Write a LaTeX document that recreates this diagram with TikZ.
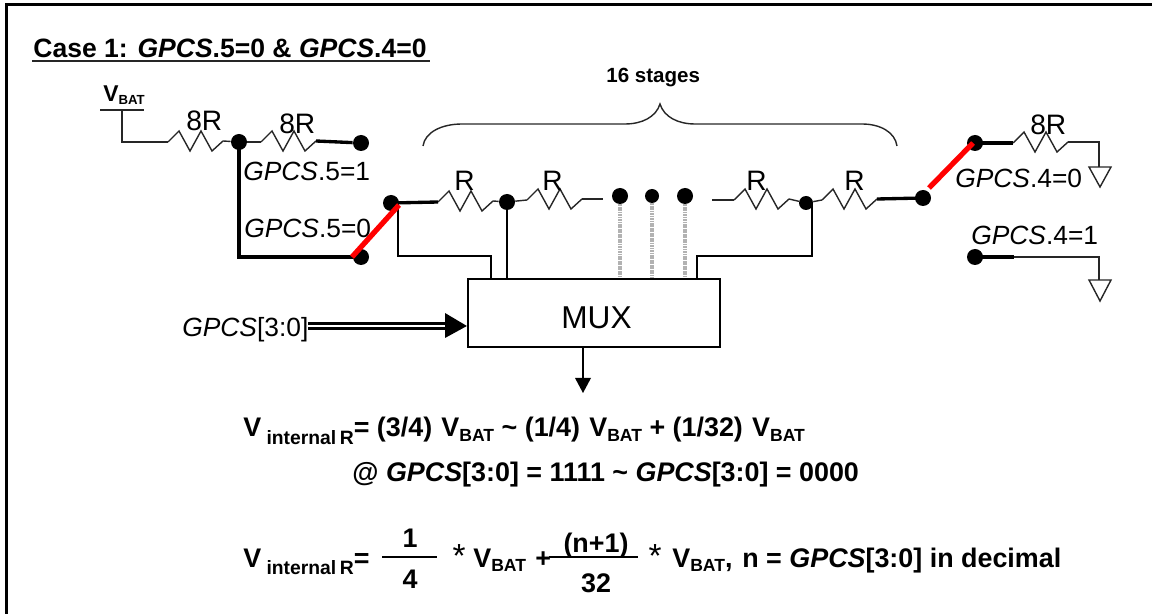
\documentclass[tikz,border=0pt]{standalone}
\usepackage{fontspec}
\setmainfont{Liberation Sans}
\usetikzlibrary{positioning}
\usetikzlibrary{calc}

\newcommand{\GP}{\textit{GPCS}}
\newcommand{\fs}[1]{\fontsize{#1}{#1}\selectfont}
\newcommand{\vbat}{V\raisebox{-2.8pt}{\fs{10}BAT}}
\newcommand{\vint}{V\hspace{3pt}\raisebox{-4.4pt}{\fs{11}internal\hspace{2pt}R}}

\tikzset{
  dot/.style={circle, fill=black, inner sep=0pt, minimum size=0.32cm},
  smalldot/.style={circle, fill=black, inner sep=0pt, minimum size=0.28cm},
  wire/.style={line width=0.8pt, black!85},
  bus/.style={line width=1.9pt},
  tap/.style={line width=1.2pt},
  sw/.style={line width=3pt, red},
  lbl/.style={anchor=base west, inner sep=0pt, font=\fs{15}},
  rlbl/.style={anchor=base west, inner sep=0pt, font=\fs{16}},
  eqn/.style={anchor=base west, inner sep=0pt, font=\fs{15.3}\bfseries},
  num/.style={anchor=base, inner sep=0pt, font=\fs{15.3}\bfseries},
  star/.style={anchor=base, inner sep=0pt, font=\fs{19}}
}

\begin{document}
\begin{tikzpicture}[x=0.02cm, y=-0.02cm]
 \useasboundingbox (0,0) rectangle (1152,614);

 %frame
 \coordinate (FA) at (6.5,614);
 \coordinate (FB) at (6.5,4.5);
 \coordinate (FC) at (1152,4.5);
 \draw[line width=1.6pt] (FA) -- (FB) -- (FC);

 %title
 \node[eqn, font=\fs{15.1}\bfseries] (title) at (33,58) {Case 1: \GP.5=0 \& \GP.4=0};
 \draw[wire] (title.base west) ++(-1,3) coordinate (TA) -- ++(398,0) coordinate (TB);

 %resistors
 \foreach \dx/\dy/\name in {168/142/A, 261/142/B, 438/202/C, 527/200/D, 734/200/E, 822/200/F, 1013/143/G} {
     \coordinate (\name a) at (\dx,\dy);
     \draw[wire] (\name a) -- ++(11,-11) -- ++(11,20) -- ++(11,-20) -- ++(11,20) -- ++(11,-10) coordinate (\name b);
 }

 \foreach \x/\y/\name in {186/131/8R, 279/134/8R, 454/191/R, 542/191/R, 746/191/R, 844/191/R, 1030/135/8R} {
     \node[rlbl] (L\x) at (\x,\y) {\name};
 }

 %left part
 \node[anchor=base west, inner sep=0pt, font=\fs{13}\bfseries] (vtop) at (103,102) {V\raisebox{-1.4pt}{\fs{7.5}BAT}};
 \coordinate (Vbar) at (100,110);
 \coordinate (Vfoot) at (122,110);
 \draw[wire] (Vbar) -- ++(44,0);
 \draw[wire] (Vfoot) |- (Aa);

 \node[dot] (N1) at (239,142) {};
 \node[dot] (N2) at (361,143) {};
 \node[dot] (N3) at (361,257) {};
 \node[dot] (N4) at (391,203) {};
 \draw[wire] (Ab) -- (N1);
 \draw[wire] (N1) -- (Ba);
 \draw[bus] (Bb) -- (N2);
 \draw[bus] (N1.center) |- (N3.center);

 \node[lbl] (five1) at (243,181) {\GP.5=1};
 \node[lbl] (five0) at (244,238) {\GP.5=0};

 %divider
 \node[dot] (N5) at (507,202) {};
 \node[dot] (N6) at (620,196) {};
 \node[smalldot] (N7) at (652,196) {};
 \node[dot] (N8) at (685,196) {};
 \node[smalldot] (N9) at (806,203) {};
 \node[dot] (N10) at (923,198) {};
 \coordinate (Dl) at (603,199);
 \coordinate (Dr) at (712,200);
 \draw[bus] (N4.center) -- (Ca);
 \draw[wire] (Cb) -- (N5);
 \draw[wire] (N5) -- (Da);
 \draw[wire] (Db) -- (Dl);
 \draw[wire] (Dr) -- (Ea);
 \draw[wire] (Eb) -- (N9);
 \draw[wire] (N9) -- (Fa);
 \draw[bus] (Fb) -- (N10.center);

 %brace
 \coordinate (Bl) at (423,146);
 \coordinate (Bm) at (660,104);
 \coordinate (Br) at (897,146);
 \draw[wire] (Bl) .. controls (425,132) and (442,124) .. (462,124) -- (625,124)
    .. controls (642,124) and (656,117) .. (Bm) .. controls (664,117) and (678,124) .. (695,124)
    -- (862,124) .. controls (880,124) and (895,132) .. (Br);
 \node[anchor=base west, inner sep=0pt, font=\fs{11.7}\bfseries] (stages) at (606,83) {16 stages};

 %mux
 \node[draw, line width=1.3pt, minimum width=5.04cm, minimum height=1.36cm, inner sep=0pt] (MUX) at (594,313) {};
 \node[anchor=base west, inner sep=0pt, font=\fs{18}] (muxlbl) at (561,329) {MUX};
 \coordinate (Ptap) at (398,204);
 \coordinate (Qtap) at (812,204);
 \draw[tap] (Ptap) |- (491,256) -- (491,256 |- MUX.north);
 \draw[tap] (N5.center) -- (N5.center |- MUX.north);
 \draw[tap] (Qtap) |- (697,256) -- (697,256 |- MUX.north);
 \foreach \n in {6,7,8} {
     \draw[line width=1.8pt, gray!60, dash pattern=on 1pt off 0.4pt] (N\n) -- (N\n |- MUX.north);
 }

 %select input
 \node[lbl] (sel) at (182,337) {\GP[3:0]};
 \coordinate (Ain) at (308,326);
 \coordinate (Ahead) at (447,326);
 \draw[line width=4.8pt] (Ain) -- (Ahead);
 \draw[line width=1.3pt, white] (Ain) -- (Ahead);
 \coordinate (Atip) at (MUX.west |- Ahead);
 \fill (Atip) -- (445,313) -- (445,338) -- cycle;

 %output
 \coordinate (Oend) at (583,393);
 \draw[line width=1.6pt] (583,347 |- MUX.south) -- (583,380);
 \fill (Oend) -- (575,378) -- (591,378) -- cycle;

 %right part
 \node[dot] (N11) at (975,143) {};
 \node[dot] (N12) at (975,257) {};
 \coordinate (Gb2) at (1099,142);
 \coordinate (Hb) at (1099,257);
 \coordinate (Ha) at (1014,257);
 \draw[bus] (N11.center) -- (Ga);
 \draw[wire] (Gb) -- (Gb2) -- (1099,167) coordinate (Gg);
 \draw[bus] (N12.center) -- (Ha);
 \draw[wire] (Ha) -- (Hb) -- (1099,280) coordinate (Hg);
 \draw[wire] (1089,167) -- (1111,167) -- (1100,187) -- cycle;
 \draw[wire] (1089,280) -- (1111,280) -- (1100,301) -- cycle;
 \node[lbl] (four0) at (955,188) {\GP.4=0};
 \node[lbl] (four1) at (971,245) {\GP.4=1};

 %switches
 \coordinate (SWa) at (352,257);
 \coordinate (SWb) at (399,205);
 \coordinate (SWc) at (929,188);
 \coordinate (SWd) at (973,143);
 \draw[sw] (SWa) -- (SWb);
 \draw[sw] (SWc) -- (SWd);

 %equations
 \node[eqn] (eq1) at (243,436.5) {\vint= (3/4)\hspace{1pt} \vbat\ \textasciitilde\ (1/4)\hspace{1pt} \vbat\ + (1/32)\hspace{1pt} \vbat};
 \node[eqn] (eq2) at (352,481) {@ \GP[3:0] = 1111 \textasciitilde\ \GP[3:0] = 0000};

 \node[eqn] (eq3) at (243,567) {\vint=};
 \node[num] (one) at (410,547) {1};
 \node[num] (four) at (410,588) {4};
 \coordinate (Fa1) at (382,557);
 \coordinate (Fb1) at (437,557);
 \draw[line width=1.1pt] (Fa1) -- (Fb1);
 \node[star] (s1) at (459,567) {*};
 \node[eqn] (v1) at (473,567) {\vbat};
 \node[eqn] (plus) at (535,567) {+};
 \node[num] (np) at (596,552) {(n+1)};
 \node[num] (ttwo) at (596,592) {32};
 \coordinate (Fa2) at (549,557);
 \coordinate (Fb2) at (638,557);
 \draw[line width=1.1pt] (Fa2) -- (Fb2);
 \node[star] (s2) at (655,567) {*};
 \node[eqn] (v2) at (672,567) {\vbat,};
 \node[eqn] (ndef) at (742,567) {n = \GP[3:0] in decimal};

\end{tikzpicture}
\end{document}
